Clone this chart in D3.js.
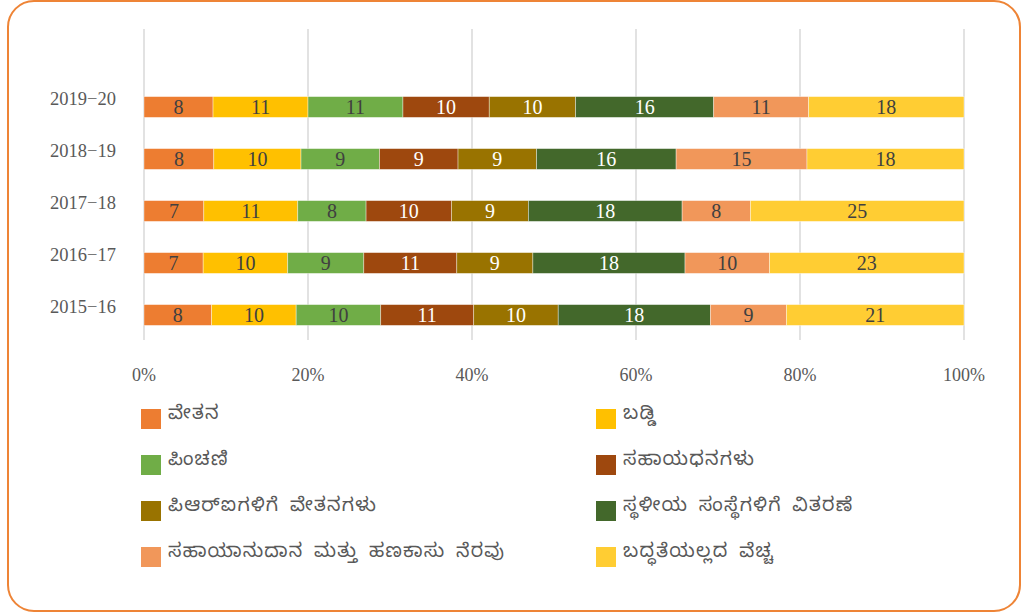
<!DOCTYPE html>
<html lang="kn">
<head>
    <meta charset="UTF-8">
    <title>chart</title>
    <script src="https://cdn.jsdelivr.net/npm/d3@7"></script>
    <style>
        body { margin: 0; background: #fff; }
        svg text { fill: #595959; }
    </style>
</head>
<body>
<svg id="chart" width="1032" height="615"></svg>
<script>
    // data
    const years = ['2019−20', '2018−19', '2017−18', '2016−17', '2015−16'];
    const seriesNames = ['ವೇತನ', 'ಬಡ್ಡಿ', 'ಪಿಂಚಣಿ', 'ಸಹಾಯಧನಗಳು', 'ಪಿಆರ್‌ಐಗಳಿಗೆ ವೇತನಗಳು',
        'ಸ್ಥಳೀಯ ಸಂಸ್ಥೆಗಳಿಗೆ ವಿತರಣೆ', 'ಸಹಾಯಾನುದಾನ ಮತ್ತು ಹಣಕಾಸು ನೆರವು', 'ಬದ್ಧತೆಯಲ್ಲದ ವೆಚ್ಚ'];
    const salaries = [8, 8, 7, 7, 8];
    const interest = [11, 10, 11, 10, 10];
    const pension = [11, 9, 8, 9, 10];
    const subsidies = [10, 9, 10, 11, 11];
    const priSalaries = [10, 9, 9, 9, 10];
    const localBodies = [16, 16, 18, 18, 18];
    const grants = [11, 15, 8, 10, 9];
    const nonCommitted = [18, 18, 25, 23, 21];
    const ticks = [0, 0.2, 0.4, 0.6, 0.8, 1];

    const colors = ['#ED7D31', '#FFC000', '#70AD47', '#9E480E', '#997300', '#43682B', '#F1975A', '#FFCD33'];
    const labelColors = ['#404040', '#404040', '#404040', '#ffffff', '#ffffff', '#ffffff', '#404040', '#404040'];

    const allSeries = [salaries, interest, pension, subsidies, priSalaries, localBodies, grants, nonCommitted];
    const rows = years.map((y, i) => {
        const r = {year: y};
        seriesNames.forEach((s, k) => r[s] = allSeries[k][i]);
        r.total = d3.sum(allSeries, a => a[i]);
        return r;
    });

    const svg = d3.select('#chart');

    // rounded border
    svg.append('rect')
        .attr('x', 8).attr('y', 1).attr('width', 1012).attr('height', 610)
        .attr('rx', 26).attr('ry', 26)
        .attr('fill', 'none').attr('stroke', '#EE8436').attr('stroke-width', 2);

    const x = d3.scaleLinear().domain([0, 1]).range([144, 964]);
    const y = d3.scaleBand().domain(years).range([81, 341]).paddingInner(0.6).paddingOuter(0.3);

    // gridlines
    svg.append('g').selectAll('line').data(ticks).join('line')
        .attr('x1', d => x(d)).attr('x2', d => x(d))
        .attr('y1', 29).attr('y2', 340)
        .attr('stroke', '#d9d9d9').attr('stroke-width', 1.5);

    // x tick labels
    svg.append('g').selectAll('text').data(ticks).join('text')
        .attr('x', d => x(d)).attr('y', 381)
        .attr('text-anchor', 'middle')
        .attr('font-family', '"Liberation Serif", serif').attr('font-size', 18)
        .text(d3.format('.0%'));

    // year labels
    svg.append('g').selectAll('text').data(years).join('text')
        .attr('x', 116).attr('y', d => y(d) + 8)
        .attr('text-anchor', 'end')
        .attr('font-family', '"Liberation Serif", serif').attr('font-size', 18.5)
        .text(d => d);

    const stack = d3.stack().keys(seriesNames)
        .value((d, key) => d[key] / d.total);
    const layers = stack(rows);

    const g = svg.append('g');
    layers.forEach((layer, k) => {
        const lg = g.append('g');
        lg.selectAll('rect').data(layer).join('rect')
            .attr('x', d => x(d[0])).attr('width', d => x(d[1]) - x(d[0]))
            .attr('y', d => y(d.data.year)).attr('height', y.bandwidth())
            .attr('fill', colors[k])
            .attr('stroke', '#ffffff').attr('stroke-opacity', 0.5).attr('stroke-width', 0.75);
        lg.selectAll('text').data(layer).join('text')
            .attr('x', d => (x(d[0]) + x(d[1])) / 2)
            .attr('y', d => y(d.data.year) + y.bandwidth() / 2 + 7)
            .attr('text-anchor', 'middle')
            .attr('font-family', '"Liberation Serif", serif').attr('font-size', 20)
            .style('fill', labelColors[k])
            .text(d => d.data[layer.key]);
    });

    // legend
    const legend = svg.append('g');
    const items = legend.selectAll('g').data(seriesNames).join('g')
        .attr('transform', (d, i) => `translate(${i % 2 ? 596 : 141},${409 + Math.floor(i / 2) * 46})`);
    items.append('rect').attr('width', 20).attr('height', 20)
        .attr('fill', (d, i) => colors[i]);
    items.append('text').attr('x', 27).attr('y', 10)
        .attr('font-family', '"Noto Sans Kannada", "Noto Sans", sans-serif').attr('font-size', 19)
        .attr('letter-spacing', 1.2)
        .attr('word-spacing', 4)
        .text(d => d);
</script>
</body>
</html>
